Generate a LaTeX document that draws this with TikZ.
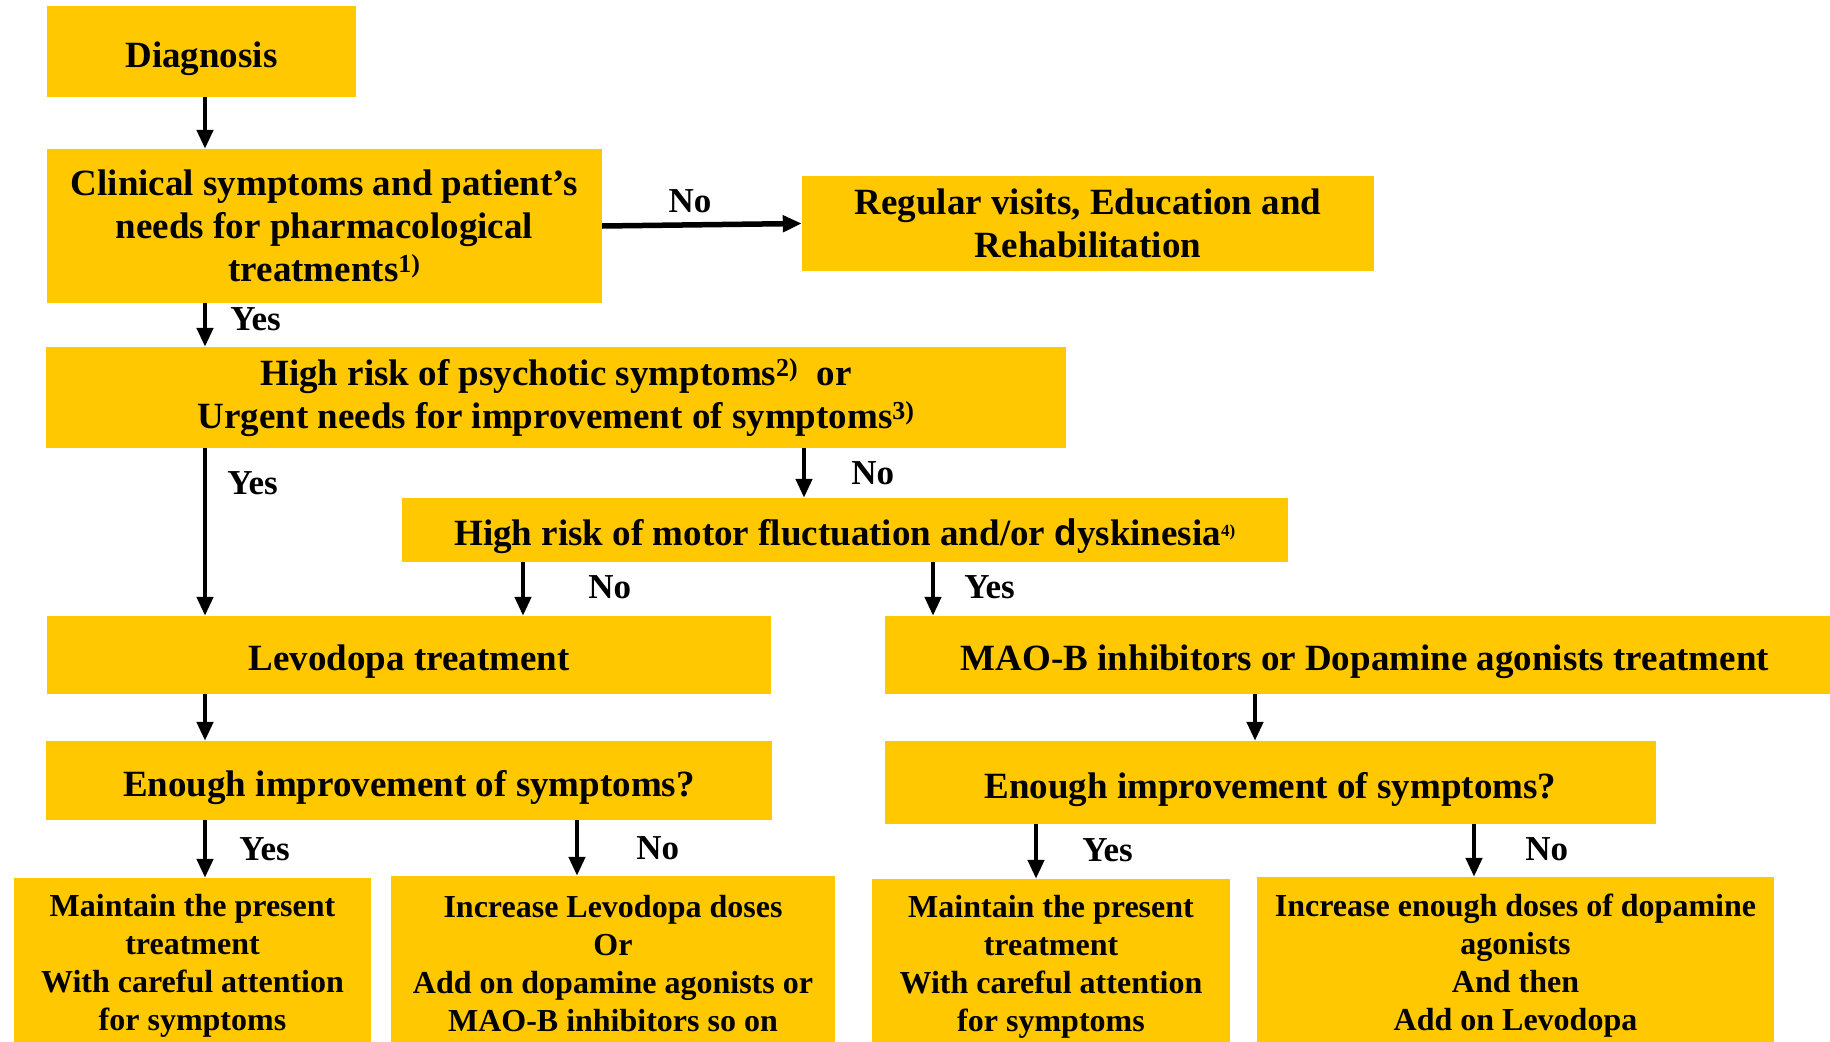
\documentclass[tikz,border=0pt]{standalone}
\usepackage{fontspec}
\setmainfont{Liberation Serif}
\newfontfamily\dfont{Liberation Sans}
\usetikzlibrary{arrows.meta}
\definecolor{boxfill}{HTML}{FFC800}

\begin{document}
\begin{tikzpicture}[x=1pt, y=-1pt,
  box/.style={fill=boxfill, inner sep=0pt, align=center,
    font=\bfseries\fontsize{37}{43}\selectfont},
  onebox/.style={box, text height=31pt, text depth=0pt},
  lowbox/.style={box, font=\bfseries\fontsize{32}{38}\selectfont},
  arr/.style={line width=4.5pt, -{Triangle[length=19pt, width=16pt]}},
  lbl/.style={inner sep=0pt, font=\bfseries\fontsize{35}{40}\selectfont}]
\useasboundingbox (0,0) rectangle (1830,1041);

% x lanes of the down arrows
\coordinate (laneA) at (205,0);
\coordinate (laneB) at (804,0);
\coordinate (laneC) at (523,0);
\coordinate (laneD) at (933,0);
\coordinate (laneE) at (1255,0);
\coordinate (laneF) at (577,0);
\coordinate (laneG) at (1036,0);
\coordinate (laneH) at (1474,0);

\node[onebox, minimum width=309pt, minimum height=91pt] (diag) at (201.5,51.5) {Diagnosis};
\node[box, minimum width=555pt, minimum height=154pt] (clin) at (324.5,226)
  {Clinical symptoms and patient’s\\needs for pharmacological\\treatments\textsuperscript{1)}};
\node[box, minimum width=572pt, minimum height=95pt] (visit) at (1088,223.5)
  {Regular visits, Education and\\Rehabilitation};
\node[box, minimum width=1020pt, minimum height=101pt] (psych) at (556,397.5)
  {High risk of psychotic symptoms\textsuperscript{2)}\ \ or\\Urgent needs for improvement of symptoms\textsuperscript{3)}};
\node[onebox, minimum width=886pt, minimum height=64pt] (motor) at (845,530)
  {High risk of motor fluctuation and/or {\dfont d}yskinesia\textsuperscript{\fontsize{17}{17}\selectfont 4)}};
\node[onebox, minimum width=724pt, minimum height=78pt] (levo) at (409,655) {Levodopa treatment};
\node[onebox, minimum width=960pt, minimum height=78pt] (maob) at (1365,655)
  {MAO-B inhibitors or Dopamine agonists treatment};
\node[onebox, minimum width=726pt, minimum height=79pt] (enoughL) at (409,780.5)
  {Enough improvement of symptoms?};
\node[onebox, minimum width=771pt, minimum height=83pt] (enoughR) at (1270.5,782.5)
  {Enough improvement of symptoms?};
\node[lowbox, minimum width=357pt, minimum height=176pt] (keepL) at (192.5,966)
  {Maintain the present\\treatment\\With careful attention\\for symptoms};
\node[lowbox, minimum width=444pt, minimum height=176pt] (addL) at (613,964)
  {Increase Levodopa doses\\Or\\Add on dopamine agonists or\\MAO-B inhibitors so on};
\node[lowbox, minimum width=358pt, minimum height=175pt] (keepR) at (1051,966.5)
  {Maintain the present\\treatment\\With careful attention\\for symptoms};
\node[lowbox, minimum width=517pt, minimum height=177pt] (addR) at (1515.5,965.5)
  {Increase enough doses of dopamine\\agonists\\And then\\Add on Levodopa};

\draw[arr] (diag.south -| laneA) -- (clin.north -| laneA);
\draw[arr, line width=5.5pt] (clin.east) -- node[lbl, pos=.44, above=9pt] {No} (visit.west);
\draw[arr] (clin.south -| laneA) -- node[lbl, right=23pt, yshift=6pt] {Yes} (psych.north -| laneA);
\draw[arr] (psych.south -| laneA) -- node[lbl, pos=.21, right=20pt] {Yes} (levo.north -| laneA);
\draw[arr] (psych.south -| laneB) -- node[lbl, right=45pt] {No} (motor.north -| laneB);
\draw[arr] (motor.south -| laneC) -- node[lbl, right=63pt, yshift=2pt] {No} (levo.north -| laneC);
\draw[arr] (motor.south -| laneD) -- node[lbl, right=29pt, yshift=2pt] {Yes} (maob.north -| laneD);
\draw[arr] (levo.south -| laneA) -- (enoughL.north -| laneA);
\draw[arr] (maob.south -| laneE) -- (enoughR.north -| laneE);
\draw[arr] (enoughL.south -| laneA) -- node[lbl, right=32pt] {Yes} (keepL.north -| laneA);
\draw[arr] (enoughL.south -| laneF) -- node[lbl, right=57pt] {No} (addL.north -| laneF);
\draw[arr] (enoughR.south -| laneG) -- node[lbl, right=44pt, yshift=1pt] {Yes} (keepR.north -| laneG);
\draw[arr] (enoughR.south -| laneH) -- node[lbl, right=49pt, yshift=1pt] {No} (addR.north -| laneH);
\end{tikzpicture}
\end{document}
